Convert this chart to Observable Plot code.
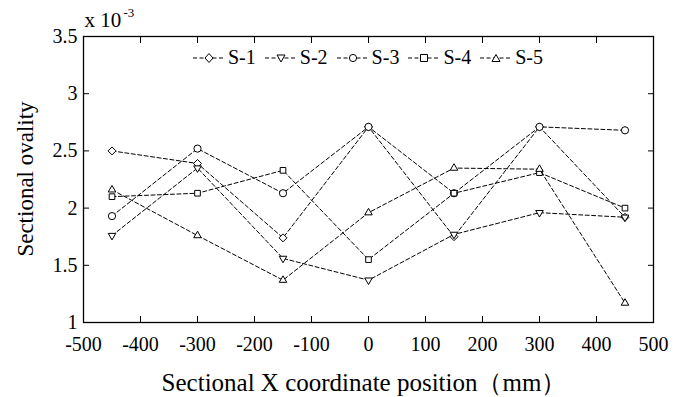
<!DOCTYPE html>
<html>
<head>
<meta charset="utf-8">
<script src="https://cdn.jsdelivr.net/npm/d3@7"></script>
<script src="https://cdn.jsdelivr.net/npm/@observablehq/plot@0.6"></script>
<style>
  html, body { margin: 0; padding: 0; background: #fff; }
  #wrap { position: relative; width: 685px; height: 397px; font-family: "Liberation Serif", "DejaVu Serif", serif; }
  #wrap svg, #wrap svg text { font-family: "Liberation Serif", "DejaVu Serif", serif !important; }
  #legend { position: absolute; left: 193px; top: 46px; display: flex; align-items: center; font-size: 20px; color: #000; }
  .item { display: flex; align-items: center; margin-right: 9px; }
  .item svg { margin-right: 3px; }
</style>
</head>
<body>
<div id="wrap"></div>
<script>
const positions = [-450, -300, -150, 0, 150, 300, 450];
const seriesNames = ["S-1", "S-2", "S-3", "S-4", "S-5"];
const s1 = [2.50, 2.39, 1.74, 2.71, 1.75, 2.71, 1.92];
const s2 = [1.76, 2.35, 1.56, 1.37, 1.77, 1.96, 1.92];
const s3 = [1.93, 2.52, 2.13, 2.71, 2.13, 2.71, 2.68];
const s4 = [2.10, 2.13, 2.33, 1.55, 2.13, 2.31, 2.00];
const s5 = [2.16, 1.76, 1.37, 1.96, 2.35, 2.34, 1.17];
const xTicks = [-500, -400, -300, -200, -100, 0, 100, 200, 300, 400, 500];
const yTicks = [1, 1.5, 2, 2.5, 3, 3.5];
const xLabel = "Sectional X coordinate position（mm）";
const yLabel = "Sectional ovality";

const symbolOf = {"S-1": "diamond2", "S-2": "triangle2", "S-3": "circle", "S-4": "square2", "S-5": "triangle2"};
const rotateOf = {"S-1": 0, "S-2": 180, "S-3": 0, "S-4": 0, "S-5": 0};
const allSeries = [s1, s2, s3, s4, s5];
const rows = [];
seriesNames.forEach((name, i) => {
  positions.forEach((x, j) => rows.push({series: name, x, y: allSeries[i][j]}));
});

const dash = "4,2.5";
const marks = [
  Plot.frame({stroke: "#000", strokeWidth: 1.3}),
  Plot.axisX({ticks: xTicks, tickSize: 0, tickPadding: 14, tickFormat: d => String(d), label: null, fontSize: 20}),
  Plot.axisX({ticks: xTicks, tickSize: -6, tickFormat: () => "", label: null}),
  Plot.axisX({ticks: xTicks, anchor: "top", tickSize: -6, tickFormat: () => "", label: null}),
  Plot.axisY({ticks: yTicks, tickSize: 0, tickPadding: 6, tickFormat: d => String(d), label: null, fontSize: 20}),
  Plot.axisY({ticks: yTicks, tickSize: -6, tickFormat: () => "", label: null}),
  Plot.axisY({ticks: yTicks, anchor: "right", tickSize: -6, tickFormat: () => "", label: null}),
];
seriesNames.forEach(name => {
  const d = rows.filter(r => r.series === name);
  marks.push(Plot.line(d, {x: "x", y: "y", stroke: "#000", strokeWidth: 1, strokeDasharray: dash}));
  marks.push(Plot.dot(d, {x: "x", y: "y", symbol: () => symbolOf[name], rotate: rotateOf[name], r: 3.6, stroke: "#000", strokeWidth: 1, fill: "#fff"}));
});
marks.push(Plot.text([yTicks[yTicks.length - 1]], {x: xTicks[0], y: d => d, text: () => "x 10", textAnchor: "start", dx: 1, dy: -16, fontSize: 21}));
marks.push(Plot.text([yTicks[yTicks.length - 1]], {x: xTicks[0], y: d => d, text: () => "-3", textAnchor: "start", dx: 40, dy: -24, fontSize: 13}));

const chart = Plot.plot({
  width: 685,
  height: 397,
  marginLeft: 83,
  marginRight: 32,
  marginTop: 36,
  marginBottom: 75,
  x: {domain: [-500, 500]},
  y: {domain: [1, 3.5]},
  style: {fontFamily: "'Liberation Serif', 'DejaVu Serif', serif", fontSize: "20px", color: "#000", background: "#fff"},
  marks
});
const wrap = document.getElementById("wrap");
wrap.appendChild(chart);

// axis titles
const svg = d3.select(chart);
svg.append("text").attr("x", 364).attr("y", 391).attr("text-anchor", "middle")
  .attr("font-size", 25).attr("fill", "#000").text(xLabel);
svg.append("text").attr("transform", "translate(33,179) rotate(-90)").attr("text-anchor", "middle")
  .attr("font-size", 23).attr("fill", "#000").text(yLabel);

// legend
const legend = document.createElement("div");
legend.id = "legend";
const symPath = {
  "S-1": "M16,3.5L20,8L16,12.5L12,8Z",
  "S-2": "M12,5L20,5L16,12Z",
  "S-3": null,
  "S-4": "M12.5,4.5h7v7h-7Z",
  "S-5": "M12,11.5L20,11.5L16,4.5Z"
};
seriesNames.forEach(name => {
  const it = document.createElement("div");
  it.className = "item";
  const s = d3.create("svg").attr("width", 32).attr("height", 16);
  s.append("line").attr("x1", 0).attr("x2", 32).attr("y1", 8).attr("y2", 8)
    .attr("stroke", "#000").attr("stroke-dasharray", dash);
  if (symPath[name]) s.append("path").attr("d", symPath[name]).attr("fill", "#fff").attr("stroke", "#000");
  else s.append("circle").attr("cx", 16).attr("cy", 8).attr("r", 3.6).attr("fill", "#fff").attr("stroke", "#000");
  it.appendChild(s.node());
  const t = document.createElement("span");
  t.textContent = name;
  it.appendChild(t);
  legend.appendChild(it);
});
wrap.appendChild(legend);
</script>
</body>
</html>
